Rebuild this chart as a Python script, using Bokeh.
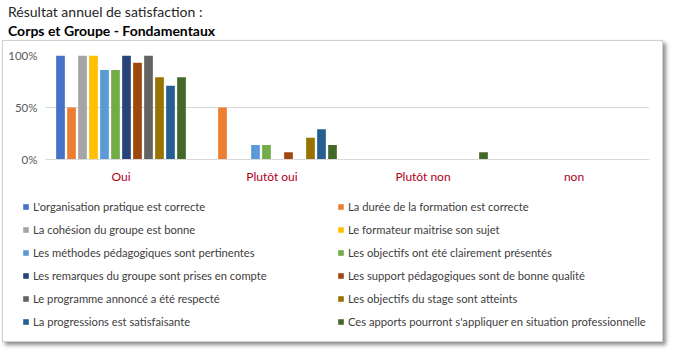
from bokeh.plotting import figure
from bokeh.models import (FactorRange, Range1d, Legend, LegendItem, Div,
                          NumeralTickFormatter, FixedTicker, ColumnDataSource)
from bokeh.layouts import column
from bokeh.transform import dodge
from bokeh.embed import file_html
from bokeh.resources import INLINE

# ---------------- data ----------------
title_line1 = "Résultat annuel de satisfaction :"
title_line2 = "Corps et Groupe - Fondamentaux"

categories = ["Oui", "Plutôt oui", "Plutôt non", "non"]

series_names = [
    "L'organisation pratique est correcte",
    "La durée de la formation est correcte",
    "La cohésion du groupe est bonne",
    "Le formateur maitrise son sujet",
    "Les méthodes pédagogiques sont pertinentes",
    "Les objectifs ont été clairement présentés",
    "Les remarques du groupe sont prises en compte",
    "Les support pédagogiques sont de bonne qualité",
    "Le programme annoncé a été respecté",
    "Les objectifs du stage sont atteints",
    "La progressions est satisfaisante",
    "Ces apports pourront s'appliquer en situation professionnelle",
]

organisation = [1.00, 0.00, 0.00, 0.00]
duree = [0.50, 0.50, 0.00, 0.00]
cohesion = [1.00, 0.00, 0.00, 0.00]
formateur = [1.00, 0.00, 0.00, 0.00]
methodes = [0.86, 0.14, 0.00, 0.00]
objectifs_presentes = [0.86, 0.14, 0.00, 0.00]
remarques = [1.00, 0.00, 0.00, 0.00]
supports = [0.93, 0.07, 0.00, 0.00]
programme = [1.00, 0.00, 0.00, 0.00]
objectifs_atteints = [0.79, 0.21, 0.00, 0.00]
progression = [0.71, 0.29, 0.00, 0.00]
apports = [0.79, 0.14, 0.07, 0.00]

series_values = [organisation, duree, cohesion, formateur, methodes, objectifs_presentes,
                 remarques, supports, programme, objectifs_atteints, progression, apports]

colors = ["#4472C4", "#ED7D31", "#A5A5A5", "#FFC000", "#5B9BD5", "#70AD47",
          "#264478", "#9E480E", "#636363", "#997300", "#255E91", "#43682B"]

y_ticks = [0, 0.5, 1.0]

# ---------------- header ----------------
header = Div(
    text=("<div style='font-family:Lato;font-size:14px;line-height:19px;color:#262626;"
          "padding:2px 0 0 8px;white-space:nowrap'>"
          f"<div>{title_line1}</div>"
          f"<div style='font-weight:bold;color:#000'>{title_line2}</div></div>"),
    width=673, height=40, margin=0)

# ---------------- bar chart ----------------
CW = 659
p = figure(x_range=FactorRange(*categories, range_padding=0), y_range=Range1d(0, 1),
           width=CW, height=145, output_backend="svg", toolbar_location=None,
           min_border_left=42, min_border_right=13, min_border_top=14,
           min_border_bottom=25, margin=0, frame_align=False)
p.outline_line_color = None
p.border_fill_color = "white"

n = len(series_values)
cat_px = 604 / len(categories)
pitch = 11.0 / cat_px
bar_w = 8.7 / cat_px
for i, (vals, col) in enumerate(zip(series_values, colors)):
    src = ColumnDataSource(dict(cat=categories, val=vals))
    p.vbar(x=dodge("cat", (i - (n - 1) / 2) * pitch, range=p.x_range), top="val",
           width=bar_w, source=src, fill_color=col, line_color=None)

p.xgrid.grid_line_color = None
p.ygrid.grid_line_color = "#d9d9d9"
p.ygrid.ticker = FixedTicker(ticks=y_ticks)
p.yaxis.ticker = FixedTicker(ticks=y_ticks)
p.yaxis.formatter = NumeralTickFormatter(format="0%")
p.yaxis.axis_line_color = None
p.yaxis.major_tick_line_color = None
p.yaxis.minor_tick_line_color = None
p.yaxis.major_label_text_color = "#595959"
p.yaxis.major_label_text_font = "Lato"
p.yaxis.major_label_text_font_size = "11.5px"
p.yaxis.major_label_standoff = 2

p.xaxis.axis_line_color = "#d9d9d9"
p.xaxis.major_tick_line_color = None
p.xaxis.minor_tick_line_color = None
p.xaxis.major_label_text_color = "#B00018"
p.xaxis.major_label_text_font = "Lato"
p.xaxis.major_label_text_font_size = "12px"
p.xaxis.major_label_standoff = 3

# ---------------- legend panel ----------------
LH = 155
lp = figure(x_range=Range1d(0, 1), y_range=Range1d(0, 1), width=CW, height=LH,
            output_backend="svg", toolbar_location=None, min_border=0, margin=0,
            x_axis_location=None, y_axis_location=None, frame_align=False)
lp.outline_line_color = None
lp.grid.visible = False
lp.border_fill_color = "white"

# zero-height swatch renderers, only used for the legend glyphs
legend_renderers = [lp.vbar(x=[0], top=[0], width=0.01, fill_color=col, line_color=None)
                    for col in colors]


def make_legend(idxs, vx):
    items = [LegendItem(label=series_names[k], renderers=[legend_renderers[k]]) for k in idxs]
    return Legend(items=items, location=(vx, 13), orientation="vertical",
                  padding=0, margin=0, border_line_color=None, background_fill_alpha=0,
                  glyph_width=7, glyph_height=7, label_standoff=4, label_height=14,
                  spacing=9, label_text_font="Lato", label_text_font_size="11.2px",
                  label_text_color="#404040")


lp.add_layout(make_legend(range(0, n, 2), 19))
lp.add_layout(make_legend(range(1, n, 2), 334))

box = column(p, lp, margin=(0, 0, 0, 2),
             styles={"border": "1px solid #d0d0d0",
                     "box-shadow": "3px 3px 4px rgba(0,0,0,0.45)",
                     "background-color": "white"})

layout = column(header, box, margin=0)
open("out.html", "w").write(file_html(layout, INLINE))
